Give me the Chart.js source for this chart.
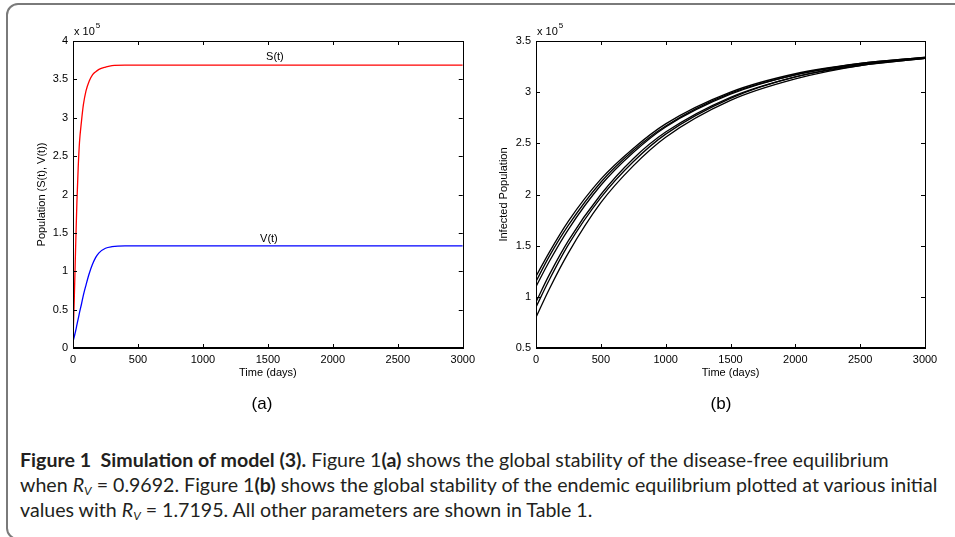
<!DOCTYPE html>
<html>
<head>
<meta charset="utf-8">
<script src="https://cdn.jsdelivr.net/npm/chart.js@4.4.1/dist/chart.umd.min.js"></script>
<style>
  body { margin:0; background:#fff; }
  #page { position:relative; width:955px; height:537px; overflow:hidden; background:#fff; }
  #frame { position:absolute; left:6px; top:3px; width:1000px; height:537px; border:2px solid #7a7a7a; border-radius:12px; box-sizing:border-box; }
  canvas { position:absolute; top:0; }
  .sub { position:absolute; top:394px; font:17px "Liberation Sans", Arial, sans-serif; color:#000; width:60px; text-align:center; }
  #caption { position:absolute; left:20px; top:447px; font:19.6px Lato, sans-serif; color:#231f20; line-height:25px; white-space:nowrap; }
  #caption i { font-style:italic; }
  #caption sub { font-size:12px; vertical-align:-3px; line-height:0; }
</style>
</head>
<body>
<div id="page">
  <div id="frame"></div>
  <canvas id="chartA" width="480" height="400" style="left:0"></canvas>
  <canvas id="chartB" width="475" height="400" style="left:480px"></canvas>
  <div class="sub" style="left:232px">(a)</div>
  <div class="sub" style="left:691px">(b)</div>
  <div id="caption">
    <div><b>Figure 1&nbsp; Simulation of model (3).</b> Figure 1<b>(a)</b> shows the global stability of the disease-free equilibrium</div>
    <div>when <i>R<sub>V</sub></i> = 0.9692. Figure 1<b>(b)</b> shows the global stability of the endemic equilibrium plotted at various initial</div>
    <div>values with <i>R<sub>V</sub></i> = 1.7195. All other parameters are shown in Table 1.</div>
  </div>
</div>
<script>
// values are in units of 10^5 people
const timeA = [0, 10, 20, 30, 40, 50, 65, 80, 100, 125, 150, 175, 200, 250, 300, 400, 500, 1000, 1500, 2000, 2500, 3000];
const susceptible = [0.1, 0.65, 1.3, 1.9, 2.35, 2.68, 2.95, 3.17, 3.35, 3.48, 3.56, 3.6, 3.63, 3.66, 3.68, 3.685, 3.685, 3.685, 3.685, 3.685, 3.685, 3.685];
const vaccinated = [0.08, 0.15, 0.22, 0.3, 0.38, 0.46, 0.57, 0.69, 0.82, 0.97, 1.09, 1.18, 1.24, 1.3, 1.32, 1.33, 1.33, 1.33, 1.33, 1.33, 1.33, 1.33];

const timeB = [0, 100, 250, 500, 750, 1000, 1500, 2000, 2500, 3000];
const infected1 = [1.20, 1.43, 1.74, 2.15, 2.45, 2.69, 3.00, 3.18, 3.28, 3.34];
const infected2 = [1.15, 1.39, 1.70, 2.12, 2.43, 2.67, 2.99, 3.17, 3.28, 3.34];
const infected3 = [1.10, 1.34, 1.66, 2.09, 2.41, 2.66, 2.98, 3.17, 3.27, 3.34];
const infected4 = [0.95, 1.21, 1.55, 2.00, 2.35, 2.61, 2.95, 3.15, 3.27, 3.33];
const infected5 = [0.90, 1.16, 1.51, 1.97, 2.32, 2.59, 2.94, 3.15, 3.26, 3.33];
const infected6 = [0.80, 1.07, 1.43, 1.92, 2.28, 2.56, 2.92, 3.13, 3.26, 3.33];

const xTicks = [0, 500, 1000, 1500, 2000, 2500, 3000];
const yTicksA = [0, 0.5, 1, 1.5, 2, 2.5, 3, 3.5, 4];
const yTicksB = [0.5, 1, 1.5, 2, 2.5, 3, 3.5];
const curveLabels = [{ text: 'S(t)', x: 1554, y: 3.79 }, { text: 'V(t)', x: 1508, y: 1.42 }];

const FONT = '"Liberation Sans", Arial, sans-serif';
Chart.defaults.font.family = FONT;
Chart.defaults.font.size = 11;
Chart.defaults.color = '#000';

function pts(xs, ys) { return xs.map((x, i) => ({ x: x, y: ys[i] })); }

// matlab style box, inward ticks, exponent label and text labels
const matlabBox = {
  id: 'matlabBox',
  afterDraw(chart, args, opts) {
    const c = chart.ctx, a = chart.chartArea;
    const xs = chart.scales.x, ys = chart.scales.y;
    c.save();
    c.strokeStyle = '#000';
    c.lineWidth = 1;
    c.beginPath();
    xs.ticks.forEach(t => {
      const px = Math.round(xs.getPixelForValue(t.value)) + 0.5;
      c.moveTo(px, a.bottom); c.lineTo(px, a.bottom - 4);
      c.moveTo(px, a.top); c.lineTo(px, a.top + 4);
    });
    ys.ticks.forEach(t => {
      const py = Math.round(ys.getPixelForValue(t.value)) + 0.5;
      c.moveTo(a.left, py); c.lineTo(a.left + 4, py);
      c.moveTo(a.right, py); c.lineTo(a.right - 4, py);
    });
    c.stroke();
    c.strokeRect(Math.round(a.left) + 0.5, Math.round(a.top) + 0.5, Math.round(a.right - a.left), Math.round(a.bottom - a.top));
    c.lineWidth = 2;
    c.beginPath(); c.moveTo(a.left, a.bottom); c.lineTo(a.right + 0.5, a.bottom); c.stroke();
    c.fillStyle = '#000';
    c.font = '11px ' + FONT;
    c.textBaseline = 'alphabetic';
    c.textAlign = 'left';
    c.fillText('x 10', a.left + 1, 35);
    const w = c.measureText('x 10').width;
    c.font = '8px ' + FONT;
    c.fillText('5', a.left + 2 + w, 28);
    c.font = '11px ' + FONT;
    c.textAlign = 'center';
    c.textBaseline = 'middle';
    (opts.labels || []).forEach(l => {
      c.fillText(l.text, xs.getPixelForValue(l.x), ys.getPixelForValue(l.y));
    });
    c.restore();
  }
};

function makeChart(id, datasets, yMin, yMax, yTicks, yTitle, yWidth, padRight, titlePad, labels) {
  return new Chart(document.getElementById(id), {
    type: 'line',
    data: { datasets: datasets },
    options: {
      responsive: false,
      animation: false,
      devicePixelRatio: 1,
      layout: { padding: { left: 0, top: 41, right: padRight, bottom: 0 } },
      plugins: { legend: { display: false }, tooltip: { enabled: false }, matlabBox: { labels: labels } },
      elements: { point: { radius: 0 }, line: { borderWidth: 1.3, cubicInterpolationMode: 'monotone' } },
      scales: {
        x: {
          type: 'linear', min: 0, max: 3000,
          grid: { display: false, drawTicks: false },
          border: { display: false },
          afterBuildTicks: s => { s.ticks = xTicks.map(v => ({ value: v })); },
          afterFit: s => { s.height = 52; },
          ticks: { padding: 5, callback: v => String(v) },
          title: { display: true, text: 'Time (days)', padding: { top: 0, bottom: 20 } }
        },
        y: {
          type: 'linear', min: yMin, max: yMax,
          grid: { display: false, drawTicks: false },
          border: { display: false },
          afterBuildTicks: s => { s.ticks = yTicks.map(v => ({ value: v })); },
          afterFit: s => { s.width = yWidth; },
          ticks: { padding: 5, callback: v => String(v) },
          title: { display: true, text: yTitle, padding: { top: titlePad, bottom: 0 } }
        }
      }
    },
    plugins: [matlabBox]
  });
}

makeChart('chartA', [
  { data: pts(timeA, susceptible), borderColor: '#ff0000' },
  { data: pts(timeA, vaccinated), borderColor: '#0000ff' }
], 0, 4, yTicksA, 'Population (S(t), V(t))', 73, 17, 35, curveLabels);

makeChart('chartB', [infected1, infected2, infected3, infected4, infected5, infected6].map(s => (
  { data: pts(timeB, s), borderColor: '#000' }
)), 0.5, 3.5, yTicksB, 'Infected Population', 56, 30, 17, []);
</script>
</body>
</html>
